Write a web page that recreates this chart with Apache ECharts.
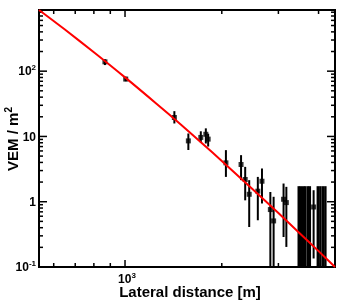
<!DOCTYPE html>
<html><head><meta charset="utf-8">
<script src="https://cdn.jsdelivr.net/npm/echarts@6/dist/echarts.min.js"></script>
<style>html,body{margin:0;padding:0;background:#fff}#c{width:341px;height:301px}</style>
</head><body><div id="c"></div>
<script>
// ---- data ----
const distances = [866, 1005, 1424, 1574, 1721, 1784, 1814, 2060, 2296, 2365, 2434, 2589, 2667, 2832, 2899, 3113, 3176, 3861];
const signals   = [139, 75.7, 19.5, 8.55, 9.66, 10.8, 9.1, 3.94, 3.72, 2.19, 1.30, 1.45, 2.06, 0.758, 0.508, 1.09, 0.97, 0.83];
const errLow    = [124, 70, 15.8, 6.2, 8.1, 7.8, 7.0, 2.40, 2.14, 1.05, 0.41, 0.52, 0.94, 0.1, 0.1, 0.288, 0.203, 0.135];
const errHigh   = [152, 82, 24.4, 11.1, 12.0, 13.3, 11.0, 6.17, 5.17, 3.42, 2.14, 2.40, 3.23, 1.41, 1.19, 1.90, 1.69, 1.50];
const upperOnlyDist = [3471, 3522, 3585, 3637, 3703, 3757, 3979, 4051, 4124, 4199];
const upperOnlyLow  = [0.1, 0.1, 0.1, 0.1, 0.1, 0.1, 0.1, 0.1, 0.1, 0.1];
const upperOnlyHigh = [1.73, 1.73, 1.73, 1.73, 1.73, 1.73, 1.73, 1.73, 1.73, 1.73];
const fitDist   = [540, 650, 800, 1000, 1250, 1500, 1750, 2000, 2500, 3000, 3500, 4000, 4500];
const fitSignal = [865, 434, 195, 80.3, 32.0, 14.8, 7.58, 4.21, 1.54, 0.670, 0.327, 0.175, 0.1];
const xMajorTicks = [1000];
const xMinorTicks = [600, 700, 800, 900, 2000, 3000, 4000];
const yMajorTicks = [0.1, 1, 10, 100];
const yMinorTicks = [0.2,0.3,0.4,0.5,0.6,0.7,0.8,0.9, 2,3,4,5,6,7,8,9, 20,30,40,50,60,70,80,90, 200,300,400,500,600,700,800];
const yLabelValues = [0.1, 1, 10, 100];
const yLabelBase = ['10', '1', '10', '10'];
const yLabelSup  = ['-1', '', '', '2'];
const xLabelValues = [1000];
const xLabelBase = ['10'];
const xLabelSup  = ['3'];

const X_MIN = 540, X_MAX = 4500, Y_MIN = 0.1, Y_MAX = 865;
const FONT = "'Liberation Sans', Arial, Helvetica, sans-serif";
const RICH = {
  b: {fontSize: 12, fontWeight: 'bold', fontFamily: FONT, color: '#000', lineHeight: 14, verticalAlign: 'bottom'},
  s: {fontSize: 8, fontWeight: 'bold', fontFamily: FONT, color: '#000', lineHeight: 9, verticalAlign: 'top'}
};

const chart = echarts.init(document.getElementById('c'), null, {renderer: 'canvas'});

function errRender(width) {
  return function (params, api) {
    const x = api.value(0);
    const p1 = api.coord([x, api.value(1)]);
    const p2 = api.coord([x, api.value(2)]);
    return {type: 'line', shape: {x1: p1[0], y1: p1[1], x2: p2[0], y2: p2[1]},
            style: {stroke: '#000', lineWidth: width}};
  };
}
function xTick(len) {
  return function (params, api) {
    const cs = params.coordSys;
    const x = api.coord([api.value(0), 1])[0];
    const b = cs.y + cs.height, t = cs.y;
    return {type: 'group', children: [
      {type: 'line', shape: {x1: x, y1: b, x2: x, y2: b - len}, style: {stroke: '#000', lineWidth: 1.5}},
      {type: 'line', shape: {x1: x, y1: t, x2: x, y2: t + len}, style: {stroke: '#000', lineWidth: 1.5}}
    ]};
  };
}
function yTick(len) {
  return function (params, api) {
    const cs = params.coordSys;
    const y = api.coord([1000, api.value(1)])[1];
    const l = cs.x, r = cs.x + cs.width;
    return {type: 'group', children: [
      {type: 'line', shape: {x1: l, y1: y, x2: l + len, y2: y}, style: {stroke: '#000', lineWidth: 1.5}},
      {type: 'line', shape: {x1: r, y1: y, x2: r - len, y2: y}, style: {stroke: '#000', lineWidth: 1.5}}
    ]};
  };
}
function labelText(base, sup) {
  return sup ? '{b|' + base + '}{s|' + sup + '}' : '{b|' + base + '}';
}

const option = {
  animation: false,
  backgroundColor: '#fff',
  grid: {left: 39, right: 6, top: 10, bottom: 34, show: true, borderColor: '#000', borderWidth: 2, backgroundColor: 'transparent'},
  xAxis: {type: 'log', logBase: 10, min: X_MIN, max: X_MAX,
          axisLine: {show: false}, axisTick: {show: false}, axisLabel: {show: false}, splitLine: {show: false}},
  yAxis: {type: 'log', logBase: 10, min: Y_MIN, max: Y_MAX,
          axisLine: {show: false}, axisTick: {show: false}, axisLabel: {show: false}, splitLine: {show: false}},
  graphic: [
    {type: 'text', x: 190, y: 293, style: {text: 'Lateral distance [m]', font: 'bold 15px ' + FONT, fill: '#000', align: 'center', verticalAlign: 'middle'}},
    {type: 'text', x: 13, y: 139, rotation: Math.PI / 2,
     style: {text: '{a|VEM / m}{s|2}', align: 'center', verticalAlign: 'middle',
             rich: {a: {fontSize: 15, fontWeight: 'bold', fontFamily: FONT, color: '#000', lineHeight: 17, verticalAlign: 'bottom'},
                    s: {fontSize: 10, fontWeight: 'bold', fontFamily: FONT, color: '#000', lineHeight: 11, verticalAlign: 'top'}}}}
  ],
  series: [
    {type: 'custom', renderItem: xTick(7), data: xMajorTicks.map(v => [v, 1]), silent: true},
    {type: 'custom', renderItem: xTick(4), data: xMinorTicks.map(v => [v, 1]), silent: true},
    {type: 'custom', renderItem: yTick(8), data: yMajorTicks.map(v => [1000, v]), silent: true},
    {type: 'custom', renderItem: yTick(4), data: yMinorTicks.map(v => [1000, v]), silent: true},
    {type: 'custom', renderItem: errRender(2), clip: true,
     data: distances.map((d, i) => [d, errLow[i], errHigh[i]]), encode: {x: 0, y: [1, 2]}},
    {type: 'custom', renderItem: errRender(2.5), clip: true,
     data: upperOnlyDist.map((d, i) => [d, upperOnlyLow[i], upperOnlyHigh[i]]), encode: {x: 0, y: [1, 2]}},
    {type: 'scatter', symbol: 'rect', symbolSize: 5, itemStyle: {color: '#000'},
     data: distances.map((d, i) => [d, signals[i]]), z: 3},
    {type: 'line', data: fitDist.map((d, i) => [d, fitSignal[i]]), smooth: 0.3, symbol: 'none',
     lineStyle: {color: '#ff0000', width: 2}, z: 4},
    {type: 'custom', clip: false, silent: true,
     data: yLabelValues.map(v => [1000, v]),
     renderItem: (params, api) => {
       const i = params.dataIndex;
       const p = api.coord([X_MIN, api.value(1)]);
       return {type: 'text', x: p[0] - 3, y: p[1],
               style: {text: labelText(yLabelBase[i], yLabelSup[i]), rich: RICH, align: 'right', verticalAlign: 'middle'}};
     }},
    {type: 'custom', clip: false, silent: true,
     data: xLabelValues.map(v => [v, 1]),
     renderItem: (params, api) => {
       const i = params.dataIndex;
       const p = api.coord([api.value(0), Y_MIN]);
       return {type: 'text', x: p[0] + 2, y: p[1] + 5,
               style: {text: labelText(xLabelBase[i], xLabelSup[i]), rich: RICH, align: 'center', verticalAlign: 'top'}};
     }}
  ]
};
chart.setOption(option);
</script></body></html>
